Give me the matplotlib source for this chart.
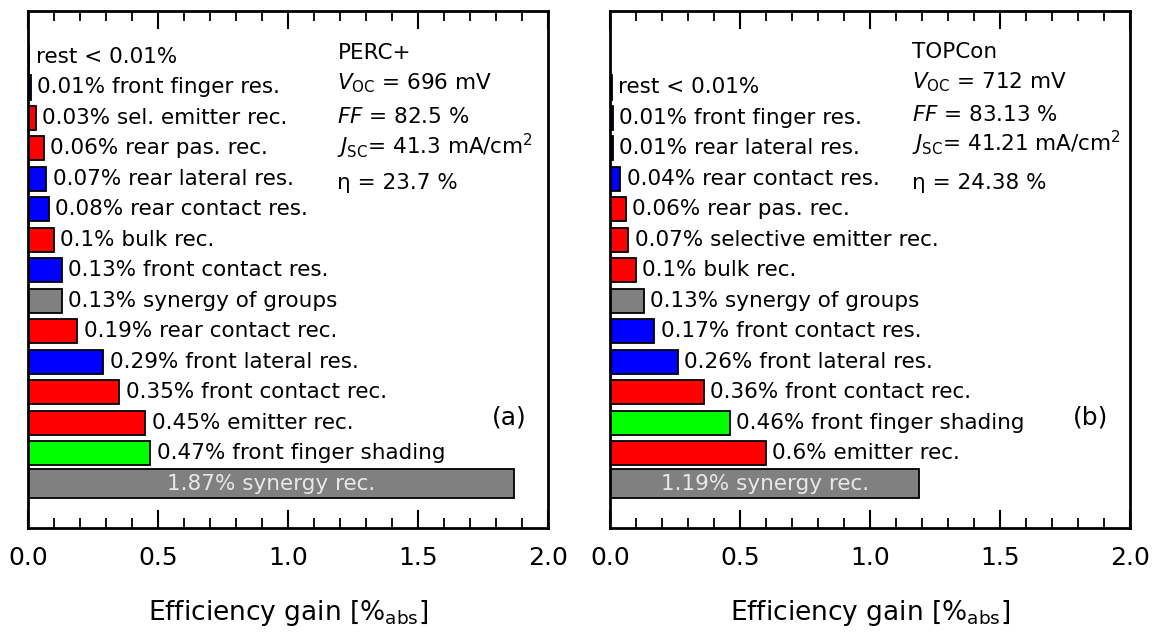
import numpy as np
import matplotlib.pyplot as plt
from matplotlib.ticker import MultipleLocator

plt.rcParams['font.family'] = ['DejaVu Sans']
plt.rcParams['mathtext.fontset'] = 'dejavusans'

# PERC+ losses, listed from bottom bar to top bar
values_a = [1.87, 0.47, 0.45, 0.35, 0.29, 0.19, 0.13, 0.13, 0.10, 0.08, 0.07, 0.06, 0.03, 0.01, 0.004]
labels_a = ['1.87% synergy rec.', '0.47% front finger shading', '0.45% emitter rec.',
            '0.35% front contact rec.', '0.29% front lateral res.', '0.19% rear contact rec.',
            '0.13% synergy of groups', '0.13% front contact res.', '0.1% bulk rec.',
            '0.08% rear contact res.', '0.07% rear lateral res.', '0.06% rear pas. rec.',
            '0.03% sel. emitter rec.', '0.01% front finger res.', 'rest < 0.01%']
groups_a = ['syn', 'shade', 'rec', 'rec', 'res', 'rec', 'syn', 'res', 'rec', 'res', 'res', 'rec',
            'rec', 'res', 'syn']
info_a = ['PERC+', r'$V_{\mathrm{OC}}$ = 696 mV', r'$FF$ = 82.5 %',
          r'$J_{\mathrm{SC}}$= 41.3 mA/cm$^2$', 'η = 23.7 %']

# TOPCon losses, listed from bottom bar to top bar
values_b = [1.19, 0.60, 0.46, 0.36, 0.26, 0.17, 0.13, 0.10, 0.07, 0.06, 0.04, 0.01, 0.01, 0.006]
labels_b = ['1.19% synergy rec.', '0.6% emitter rec.', '0.46% front finger shading',
            '0.36% front contact rec.', '0.26% front lateral res.', '0.17% front contact res.',
            '0.13% synergy of groups', '0.1% bulk rec.', '0.07% selective emitter rec.',
            '0.06% rear pas. rec.', '0.04% rear contact res.', '0.01% rear lateral res.',
            '0.01% front finger res.', 'rest < 0.01%']
groups_b = ['syn', 'rec', 'shade', 'rec', 'res', 'res', 'syn', 'rec', 'rec', 'rec', 'res', 'res',
            'res', 'syn']
info_b = ['TOPCon', r'$V_{\mathrm{OC}}$ = 712 mV', r'$FF$ = 83.13 %',
          r'$J_{\mathrm{SC}}$= 41.21 mA/cm$^2$', 'η = 24.38 %']

group_colors = {'rec': '#ff0000', 'res': '#0000ff', 'shade': '#00ff00', 'syn': '#808080'}


def draw_panel(ax, values, labels, groups, info, info_x, info_y, tag):
    y = np.arange(len(values))
    heights = [0.95] + [0.79] * (len(values) - 1)
    colors = [group_colors[g] for g in groups]
    ax.barh(y, values, height=heights, color=colors, edgecolor='black', linewidth=1.3)

    # first bar carries its label inside, the rest to the right of the bar
    ax.text(values[0] / 2, y[0], labels[0], ha='center', va='center', fontsize=15.5, color='#e8e8e8')
    for yi, v, lab in zip(y[1:], values[1:], labels[1:]):
        ax.text(v + 0.025, yi, lab, ha='left', va='center', fontsize=15.5, color='black')

    for txt, ty in zip(info, info_y):
        ax.text(info_x, ty, txt, ha='left', va='center', fontsize=15.5, color='black')
    ax.text(1.85, 2.18, tag, ha='center', va='center', fontsize=18, color='black')

    ax.set_xlim(0, 2.0)
    ax.set_ylim(-1.46, 15.51)
    ax.xaxis.set_major_locator(MultipleLocator(0.5))
    ax.xaxis.set_minor_locator(MultipleLocator(0.1))
    ax.set_xticks([0.0, 0.5, 1.0, 1.5, 2.0])
    ax.set_xticklabels(['0.0', '0.5', '1.0', '1.5', '2.0'])
    ax.set_yticks([])
    ax.tick_params(axis='x', which='both', direction='in', top=True, bottom=True)
    ax.tick_params(axis='x', which='major', length=13, width=1.5, labelsize=18, pad=13)
    ax.tick_params(axis='x', which='minor', length=7, width=1.3)
    for sp in ax.spines.values():
        sp.set_linewidth(2)
    ax.set_xlabel(r'Efficiency gain [%$_{\mathrm{abs}}$]', fontsize=19, labelpad=20)


fig = plt.figure(figsize=(11.62, 6.35), dpi=100)
ax1 = fig.add_axes([28 / 1162, 107 / 635, 520 / 1162, 517 / 635])
ax2 = fig.add_axes([610 / 1162, 107 / 635, 520 / 1162, 517 / 635])

draw_panel(ax1, values_a, labels_a, groups_a, info_a, 1.19, [14.13, 13.15, 12.03, 11.05, 9.87], '(a)')
draw_panel(ax2, values_b, labels_b, groups_b, info_b, 1.16, [14.17, 13.18, 12.1, 11.15, 9.87], '(b)')

fig.savefig('out.png', dpi=100)
